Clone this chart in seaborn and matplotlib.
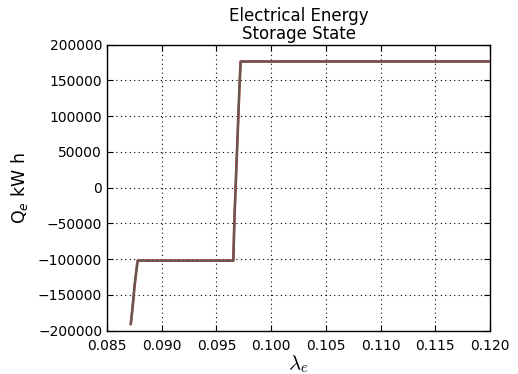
import numpy as np
import pandas as pd
import matplotlib
matplotlib.use("Agg")
import matplotlib.pyplot as plt
import seaborn as sns

# storage state vs electricity price
lam = [0.08717, 0.08735, 0.08750, 0.08765, 0.08780, 0.0900, 0.0930, 0.09654,
       0.09665, 0.09680, 0.09695, 0.09710, 0.09721, 0.1000, 0.1100, 0.1200]
q_kwh = [-191000, -165000, -140000, -120000, -102000, -102000, -102000, -102000,
         -40000, 20000, 80000, 140000, 176500, 176500, 176500, 176500]

df = pd.DataFrame({"lam": lam, "Q": q_kwh})

sns.set_style("ticks")
plt.rcParams['font.family'] = ['DejaVu Sans']
plt.rcParams['text.color'] = 'black'
plt.rcParams['axes.labelcolor'] = 'black'
plt.rcParams['xtick.color'] = 'black'
plt.rcParams['ytick.color'] = 'black'

fig = plt.figure(figsize=(5.18, 3.74), dpi=100)
ax = fig.add_axes([0.2066, 0.1158, 0.7394, 0.7647])

# two overlapping traces like the original (red beneath, grey on top)
sns.lineplot(data=df, x="lam", y="Q", sort=False, color="#c0392b", linewidth=1.9, ax=ax, zorder=3)
sns.lineplot(data=df, x="lam", y="Q", sort=False, color="#5e5a58", linewidth=1.5, ax=ax, zorder=4)

ax.set_xlim(0.085, 0.120)
ax.set_ylim(-200000, 200000)
xt = np.arange(0.085, 0.1201, 0.005)
ax.set_xticks(xt)
ax.set_xticklabels([f"{v:.3f}" for v in xt])
yt = np.arange(-200000, 200001, 50000)
ax.set_yticks(yt)
ax.set_yticklabels([str(int(v)).replace("-", "\u2212") for v in yt])

ax.grid(True, color="black", linestyle=(0, (1, 3)), linewidth=0.8)
ax.tick_params(direction="in", top=True, right=True, labelsize=10, length=4)
ax.tick_params(axis="x", pad=6)
for s in ax.spines.values():
    s.set_color("black")
    s.set_linewidth(1.0)

ax.set_title("Electrical Energy\nStorage State", fontsize=12, linespacing=1.0, pad=4)
ax.set_xlabel(r"$\lambda_e$", fontsize=15, math_fontfamily="cm", labelpad=0)
ax.set_ylabel(r"Q$_e$ kW h", fontsize=12.5, labelpad=6)

plt.savefig("out.png", dpi=100)
